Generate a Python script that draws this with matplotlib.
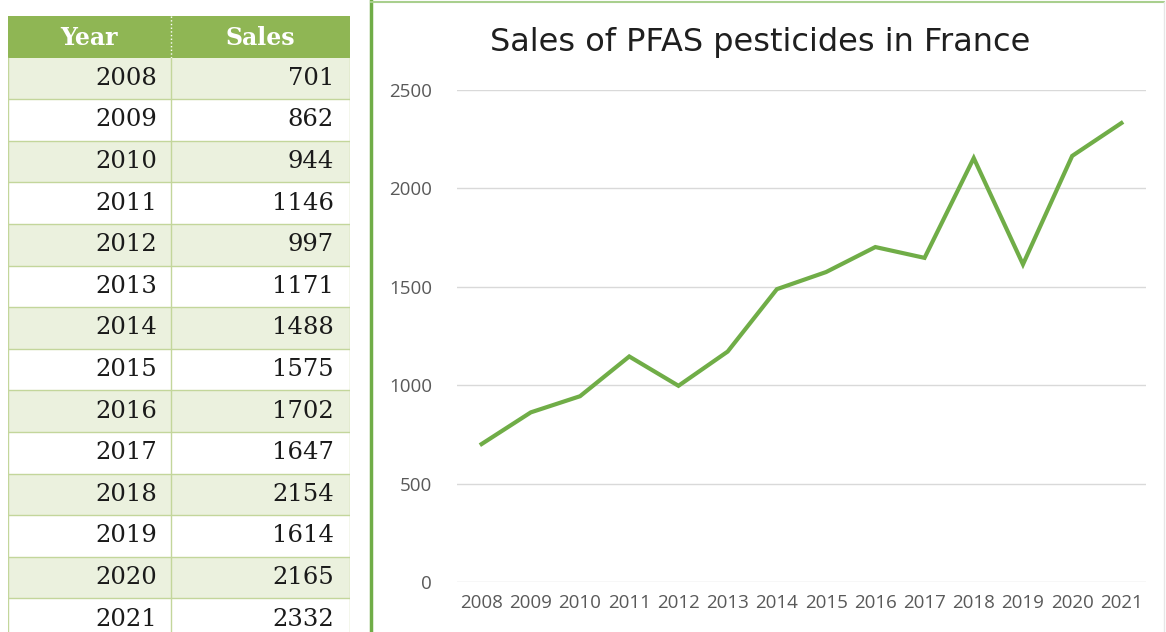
import matplotlib
matplotlib.use("Agg")
import matplotlib.pyplot as plt
from matplotlib.patches import Rectangle
from matplotlib.lines import Line2D

years = [2008, 2009, 2010, 2011, 2012, 2013, 2014, 2015, 2016, 2017, 2018, 2019, 2020, 2021]
sales = [701, 862, 944, 1146, 997, 1171, 1488, 1575, 1702, 1647, 2154, 1614, 2165, 2332]
headers = ["Year", "Sales"]
title = "Sales of PFAS pesticides in France"
yticks = [0, 500, 1000, 1500, 2000, 2500]

W, H = 1166, 632
fig = plt.figure(figsize=(W / 100, H / 100), dpi=100)

def fx(px):
    return px / W

def fy(py):
    return 1 - py / H

# ---- table on the left ----
tab_left, tab_right, tab_top = 8, 350, 16
row_h = 41.6
col_div = 171 - tab_left
tw = tab_right - tab_left
ax_t = fig.add_axes([fx(tab_left), 0, fx(tw), (H - tab_top) / H])
n_rows = (H - tab_top) / row_h
ax_t.set_xlim(0, tw)
ax_t.set_ylim(n_rows - 1, -1)
ax_t.axis("off")

header_green = "#8fb654"
light_green = "#ebf1de"
grid_green = "#c3d69b"
serif = ["DejaVu Serif"]

ax_t.add_patch(Rectangle((0, -1), tw, 1, color=header_green, lw=0))
ax_t.plot([col_div, col_div], [-1, 0], color="white", lw=1, ls=":")
ax_t.text(col_div / 2, -0.48, headers[0], ha="center", va="center",
          color="white", fontsize=17, fontweight="bold", family=serif)
ax_t.text((col_div + tw) / 2, -0.48, headers[1], ha="center", va="center",
          color="white", fontsize=17, fontweight="bold", family=serif)

for i, (yr, s) in enumerate(zip(years, sales)):
    if i % 2 == 0:
        ax_t.add_patch(Rectangle((0, i), tw, 1, color=light_green, lw=0))
    ax_t.text(col_div - 14, i + 0.5, str(yr), ha="right", va="center",
              fontsize=17.5, color="#1a1a1a", family=serif)
    ax_t.text(tw - 16, i + 0.5, str(s), ha="right", va="center",
              fontsize=17.5, color="#1a1a1a", family=serif)
    ax_t.plot([0, tw], [i + 1, i + 1], color=grid_green, lw=1)

ax_t.plot([0, 0], [0, n_rows], color=grid_green, lw=1)
ax_t.plot([tw, tw], [0, n_rows], color=grid_green, lw=1)
ax_t.plot([col_div, col_div], [0, n_rows], color=grid_green, lw=1)

# ---- chart frame ----
fig.add_artist(Line2D([fx(371), fx(371)], [0, fy(1)], color="#70ad47", lw=2.5))
fig.add_artist(Line2D([fx(371), fx(1164)], [fy(2), fy(2)], color="#a9cf8e", lw=1.5))
fig.add_artist(Line2D([fx(1164), fx(1164)], [0, fy(2)], color="#e6e6e6", lw=1))

# ---- line chart ----
plot_l, plot_r, plot_t, plot_b = 457, 1146, 90, 582
ax = fig.add_axes([fx(plot_l), fy(plot_b), fx(plot_r - plot_l), (plot_b - plot_t) / H])
xs = list(range(len(years)))
ax.plot(xs, sales, color="#70ad47", lw=3, solid_joinstyle="miter")
ax.set_xlim(-0.5, len(years) - 0.5)
ax.set_ylim(0, 2500)
ax.set_yticks(yticks)
ax.set_xticks(xs)
ax.set_xticklabels([str(y) for y in years])
ax.grid(axis="y", color="#d9d9d9", lw=1)
ax.set_axisbelow(True)
for sp in ax.spines.values():
    sp.set_visible(False)
ax.tick_params(length=0, colors="#595959", labelsize=13.5)
ax.tick_params(axis="y", pad=18)
ax.tick_params(axis="x", pad=9)
for lab in ax.get_xticklabels() + ax.get_yticklabels():
    lab.set_family(["Open Sans", "DejaVu Sans"])

fig.text(fx(760), fy(42), title, ha="center", va="center",
         fontsize=23, color="#1f1f1f", family=["DejaVu Sans"])

fig.savefig("out.png", dpi=100)
